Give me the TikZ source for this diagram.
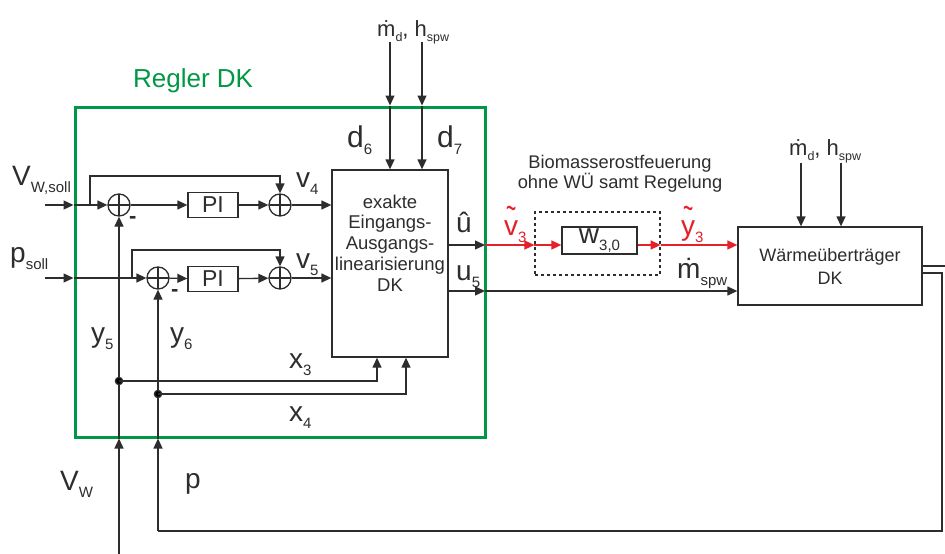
\documentclass[tikz,border=0pt]{standalone}
\usepackage{fontspec}
\setmainfont{Liberation Sans}
\usetikzlibrary{arrows.meta}
\definecolor{rgreen}{RGB}{0,152,68}
\definecolor{rred}{RGB}{228,32,40}
\definecolor{ln}{RGB}{45,45,45}
\newcommand{\fs}[1]{\fontsize{#1}{#1}\selectfont}
\newcommand{\sbs}[1]{\raisebox{-7pt}{\fs{15}#1}}
\newcommand{\sbt}[1]{\raisebox{-5pt}{\fs{12.5}#1}}
\newcommand{\tld}[1]{\leavevmode\rlap{\hspace{2pt}\raisebox{15pt}{\scalebox{0.62}[1.3]{\textasciitilde}}}#1}
\begin{document}
\begin{tikzpicture}[x=1pt,y=-1pt,
  ar/.style={draw=ln, line width=1.3pt, -{Triangle[length=10pt,width=9pt]}},
  rar/.style={draw=rred, line width=1.4pt, -{Triangle[length=10pt,width=9pt]}},
  ln/.style={draw=ln, line width=1.3pt},
  blk/.style={draw=ln, line width=1.3pt, inner sep=0pt, text=ln},
  sumn/.style={circle, draw=ln, line width=1.3pt, minimum size=22pt, inner sep=0pt,
    path picture={\draw[ln, line width=1.1pt] (path picture bounding box.north) -- (path picture bounding box.south)
      (path picture bounding box.west) -- (path picture bounding box.east);}},
  lab/.style={inner sep=0pt, anchor=base west, text=ln},
  gbox/.style={draw=rgreen, line width=3pt, inner sep=0pt}
]
\useasboundingbox (0,0) rectangle (945,554);
\fill[white] (0,0) rectangle (945,554);

% ---------------- nodes ----------------
\node[gbox, minimum width=410pt, minimum height=330pt] (regler) at (280,272) {};
\node[sumn] (s1) at (119,205) {};
\node[sumn] (s3) at (280,205) {};
\node[sumn] (s2) at (158,278) {};
\node[sumn] (s4) at (280,278) {};
\node[blk, minimum width=50pt, minimum height=25pt, font=\fs{23}] (pi1) at (213,205) {PI};
\node[blk, minimum width=50pt, minimum height=25pt, font=\fs{23}] (pi2) at (213,279) {PI};
\node[blk, minimum width=116pt, minimum height=187pt] (ex) at (390,263.5) {};
\node[inner sep=0pt, align=center, text=ln, font={\fontsize{18.5}{20.8}\selectfont}] (extext) at (390,243)
  {exakte\\Eingangs-\\Ausgangs-\\linearisierung\\DK};
\node[draw=ln, line width=1.2pt, dash pattern=on 3pt off 3pt, minimum width=125pt, minimum height=63pt, inner sep=0pt] (dbox) at (597.5,243.5) {};
\node[blk, minimum width=75pt, minimum height=27pt, font=\fs{28}] (w30) at (599.5,240.5) {w\sbs{3,0}};
\node[blk, minimum width=184pt, minimum height=78pt, align=center, font={\fontsize{18}{23}\selectfont}] (wt) at (830,266)
  {Wärmeüberträger\\DK};

% ---------------- coordinates ----------------
\coordinate (vin) at (45,205);
\coordinate (pin) at (45,278);
\coordinate (g1) at (regler.west |- s1);
\coordinate (g2) at (regler.west |- s2);
\coordinate (b1) at (90,205);
\coordinate (b1t) at (90,176);
\coordinate (b2) at (132,278);
\coordinate (b2t) at (132,250);
\coordinate (vwb) at (119,554);
\coordinate (gb1) at (s1 |- regler.south);
\coordinate (gb2) at (s2 |- regler.south);
\coordinate (j1) at (119,381);
\coordinate (j2) at (158,394);
\coordinate (x3p) at (377,381);
\coordinate (x4p) at (406,394);
\coordinate (t1) at (390,42);
\coordinate (t2) at (422,42);
\coordinate (gh) at (485,245);
\coordinate (gu) at (485,291);
\coordinate (t3) at (801,163);
\coordinate (t4) at (841,163);
\coordinate (o1) at (wt.east |- 0,266);
\coordinate (o1e) at (945,266);
\coordinate (o2) at (wt.east |- 0,273);
\coordinate (o2a) at (942,273);
\coordinate (o2b) at (942,531);
\coordinate (o2c) at (158,531);

% ---------------- row 1 ----------------
\draw[ar] (vin) -- (g1);
\draw[ar] (g1) -- (s1);
\draw[ar] (b1) -- (b1t) -- (s3 |- b1t) -- (s3);
\draw[ar] (s1) -- (pi1);
\draw[ar] (pi1) -- (s3);
\draw[ar] (s3) -- (s3 -| ex.west);
% ---------------- row 2 ----------------
\draw[ar] (pin) -- (g2);
\draw[ar] (g2) -- (s2);
\draw[ar] (b2) -- (b2t) -- (s4 |- b2t) -- (s4);
\draw[ar] (s2) -- (pi2);
\draw[ar] (pi2) -- (s4);
\draw[ar] (s4) -- (s4 -| ex.west);
% ---------------- feedback ----------------
\draw[ar] (vwb) -- (gb1);
\draw[ar] (gb1) -- (s1);
\draw[ar] (o2c) -- (gb2);
\draw[ar] (gb2) -- (s2);
\fill[ln] (j1) circle (3.6pt);
\fill[ln] (j2) circle (3.6pt);
\draw[ar] (j1) -- (x3p) -- (x3p |- ex.south);
\draw[ar] (j2) -- (x4p) -- (x4p |- ex.south);
% ---------------- top inputs ----------------
\draw[ar] (t1) -- (t1 |- regler.north);
\draw[ar] (t1 |- regler.north) -- (t1 |- ex.north);
\draw[ar] (t2) -- (t2 |- regler.north);
\draw[ar] (t2 |- regler.north) -- (t2 |- ex.north);
\draw[ar] (t3) -- (t3 |- wt.north);
\draw[ar] (t4) -- (t4 |- wt.north);
% ---------------- outputs ----------------
\draw[ar] (ex.east |- gh) -- (gh);
\draw[rar] (gh) -- (dbox.west |- gh);
\draw[rar] (dbox.west |- gh) -- (w30.west |- gh);
\draw[rar] (w30.east |- gh) -- (dbox.east |- gh);
\draw[rar] (dbox.east |- gh) -- (wt.west |- gh);
\draw[ar] (ex.east |- gu) -- (gu);
\draw[ar] (gu) -- (wt.west |- gu);
\draw[ln] (o1) -- (o1e);
\draw[ln] (o2) -- (o2a) -- (o2b) -- (o2c);

% ---------------- labels ----------------
\node[lab, text=rgreen, font=\fs{26}] (lregler) at (133,87) {Regler DK};
\node[lab, font=\fs{28}] (lvws) at (12,185) {V\sbs{W,soll}};
\node[lab, font=\fs{28}] (lps) at (10,262) {p\sbs{soll}};
\node[lab, font=\fs{28}] (lv4) at (296,187) {v\sbs{4}};
\node[lab, font=\fs{28}] (lv5) at (296,268) {v\sbs{5}};
\node[lab, font=\fs{22}] (lm1) at (129,223) {\textbf{-}};
\node[lab, font=\fs{22}] (lm2) at (171,296) {\textbf{-}};
\node[lab, font=\fs{30}] (ld6) at (347,147) {d\sbs{6}};
\node[lab, font=\fs{30}] (ld7) at (437,147) {d\sbs{7}};
\node[lab, font=\fs{22}] (ltop1) at (377,36) {ṁ\sbt{d}, h\sbt{spw}};
\node[lab, font=\fs{22}] (ltop2) at (789,155) {ṁ\sbt{d}, h\sbt{spw}};
\node[lab, font=\fs{28}] (luh) at (456,232) {û};
\node[lab, font=\fs{28}] (lu5) at (456,280) {u\sbs{5}};
\node[lab, font=\fs{28}] (ly5) at (91,342) {y\sbs{5}};
\node[lab, font=\fs{28}] (ly6) at (170,342) {y\sbs{6}};
\node[lab, font=\fs{28}] (lx3) at (289,368) {x\sbs{3}};
\node[lab, font=\fs{28}] (lx4) at (289,421) {x\sbs{4}};
\node[lab, font=\fs{28}] (lvw) at (60,490) {V\sbs{W}};
\node[lab, font=\fs{28}] (lp) at (185,488) {p};
\node[lab, text=rred, font=\fs{28}] (lv3) at (504,235) {\tld{v}\sbs{3}};
\node[lab, text=rred, font=\fs{28}] (ly3) at (681,235) {\tld{y}\sbs{3}};
\node[lab, font=\fs{28}] (lmspw) at (677,278) {ṁ\sbs{spw}};
\node[inner sep=0pt, align=center, text=ln, font={\fontsize{18.3}{20}\selectfont}] (lbio) at (620,174)
  {Biomasserostfeuerung\\ohne WÜ samt Regelung};
\end{tikzpicture}
\end{document}
